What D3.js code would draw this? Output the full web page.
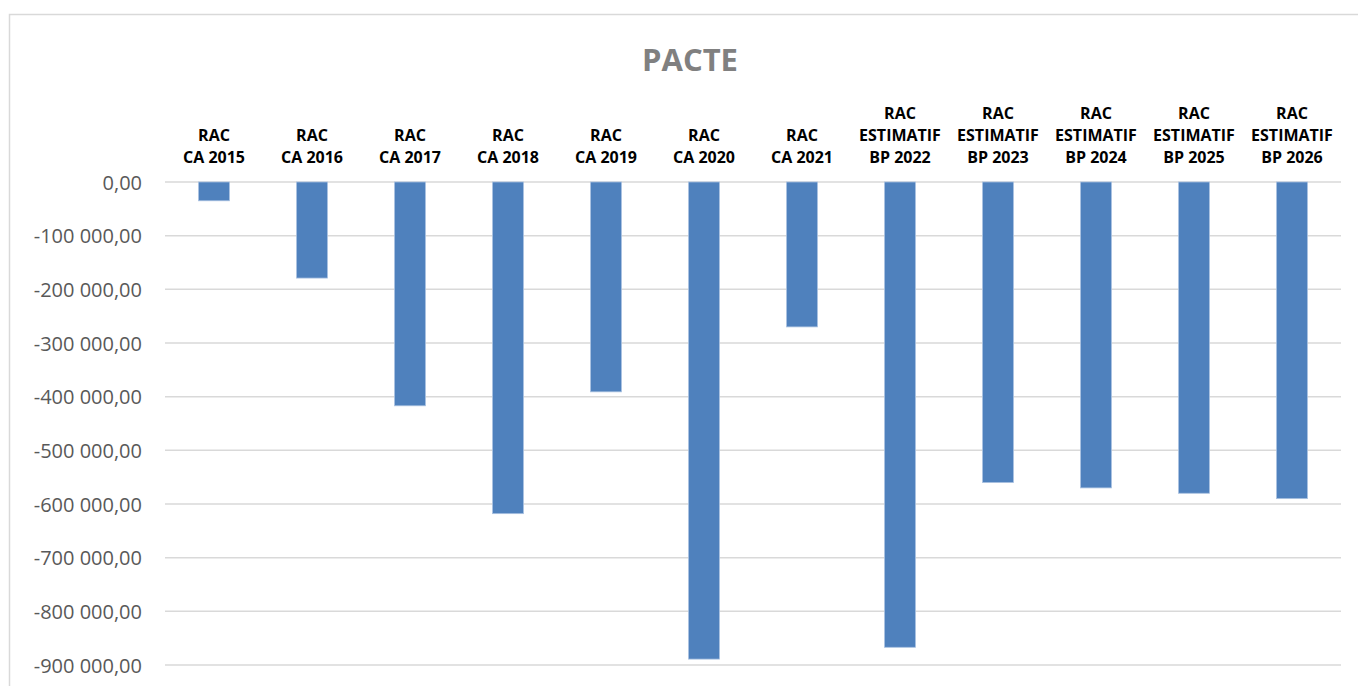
<!DOCTYPE html>
<html><head><meta charset="utf-8">
<script src="https://cdn.jsdelivr.net/npm/d3@7"></script>
<style>body{margin:0;background:#fff;} svg{display:block;}</style>
</head><body>
<svg id="chart" width="1358" height="686"></svg>
<script>
const categories = [
  ["RAC","CA 2015"],["RAC","CA 2016"],["RAC","CA 2017"],["RAC","CA 2018"],
  ["RAC","CA 2019"],["RAC","CA 2020"],["RAC","CA 2021"],
  ["RAC","ESTIMATIF","BP 2022"],["RAC","ESTIMATIF","BP 2023"],["RAC","ESTIMATIF","BP 2024"],
  ["RAC","ESTIMATIF","BP 2025"],["RAC","ESTIMATIF","BP 2026"]
];
const values = [-35000,-179000,-417000,-618000,-391000,-889000,-270000,-867000,-560000,-570000,-580000,-590000];
const yTicks = [0,-100000,-200000,-300000,-400000,-500000,-600000,-700000,-800000,-900000];
const title = "PACTE";

(function(){
const svg = d3.select("#chart");
const font = "'Open Sans', sans-serif";
// chart frame
svg.append("rect").attr("x",9.5).attr("y",14.5).attr("width",1400).attr("height",700)
  .attr("fill","none").attr("stroke","#d9d9d9").attr("stroke-width",1.5);

const pLeft=165, pRight=1341, pTop=182, pBottom=665;
const keys = categories.map(c=>c.join(" "));
const x = d3.scaleBand().domain(keys).range([pLeft,pRight]).paddingInner(0.685).paddingOuter(0.3425);
const y = d3.scaleLinear().domain([0,-900000]).range([pTop,pBottom]);

const fmt = v => d3.format(",.2f")(v).replace(/,/g," ").replace(".",",").replace("−","-");

// grid
svg.append("g").selectAll("line").data(yTicks).join("line")
  .attr("x1",pLeft).attr("x2",pRight).attr("y1",d=>y(d)).attr("y2",d=>y(d))
  .attr("stroke","#d9d9d9").attr("stroke-width",1.5);

// y axis labels
const yAxis = d3.axisLeft(y).tickValues(yTicks).tickFormat(fmt).tickSize(0).tickPadding(0);
const gy = svg.append("g").attr("transform",`translate(142,0)`).call(yAxis);
gy.select(".domain").remove();
gy.selectAll("text").attr("font-family",font).attr("font-size",20).attr("fill","#595959").attr("dy","0.35em");

// bars
svg.append("g").selectAll("rect").data(values).join("rect")
  .attr("x",(d,i)=>x(keys[i])).attr("width",x.bandwidth())
  .attr("y",d=>y(Math.max(0,d))).attr("height",d=>Math.abs(y(d)-y(0)))
  .attr("fill","#4f81bd").attr("stroke","#a9c1e0").attr("stroke-width",0.8);

// category labels
const lab = svg.append("g").selectAll("text").data(categories).join("text")
  .attr("font-family",font).attr("font-size",16).attr("font-weight","bold").attr("fill","#000")
  .attr("text-anchor","middle");
lab.each(function(c,i){
  const t=d3.select(this);
  const cx = x(keys[i])+x.bandwidth()/2;
  c.forEach((line,j)=>{
    t.append("tspan").attr("x",cx).attr("y",163-(c.length-1-j)*22).text(line);
  });
});

// title
svg.append("text").attr("x",690).attr("y",71).attr("text-anchor","middle")
  .attr("font-family",font).attr("font-size",31).attr("font-weight","bold").attr("fill","#808080")
  .text(title);
})();
</script>
</body></html>
